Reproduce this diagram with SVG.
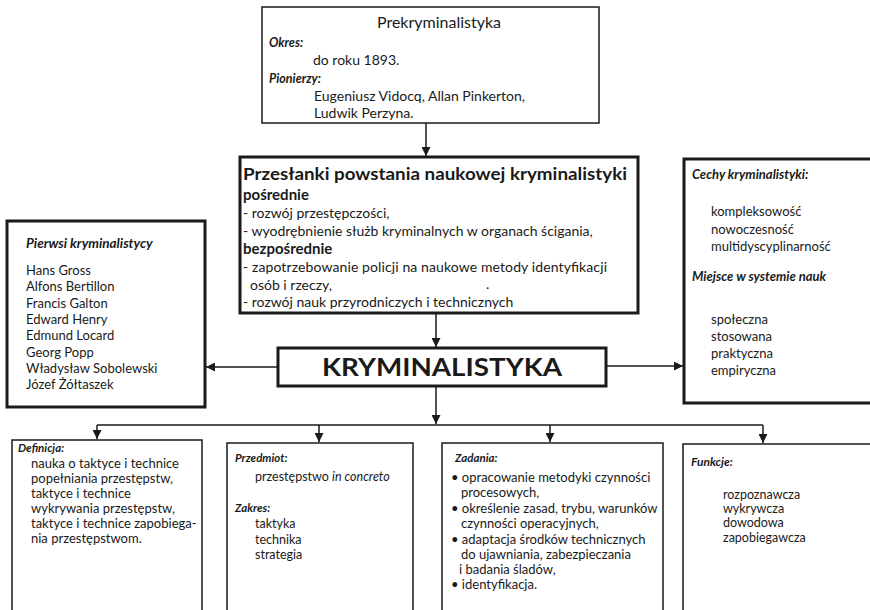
<svg xmlns="http://www.w3.org/2000/svg" width="870" height="610" viewBox="0 0 870 610">
<style>
text{font-family:Lato,"Noto Sans","DejaVu Sans",sans-serif;fill:#1a1a1a}
.t{font-size:13px}
.m{font-size:14px}
.s{font-size:12.5px}
.s13{font-size:13px}
.h{font-size:12.5px;font-weight:bold;font-style:italic}
.hb{font-size:11.5px;font-weight:bold;font-style:italic}
.b{font-size:15px;font-weight:bold}
.thick{fill:#fff;stroke:#1a1a1a;stroke-width:3}
.thin{fill:#fff;stroke:#1a1a1a;stroke-width:1.5}
.c{stroke:#1a1a1a;stroke-width:1.5;fill:none}
</style>
<defs>
<marker id="ar" viewBox="0 0 10 10" refX="10" refY="5" markerWidth="9" markerHeight="9" markerUnits="userSpaceOnUse" orient="auto"><path d="M0,0 L10,5 L0,10 z" fill="#1a1a1a"/></marker>
</defs>
<g id="connectors">
<line class="c" x1="426" y1="123" x2="426" y2="156" marker-end="url(#ar)"/>
<line class="c" x1="436" y1="313" x2="436" y2="347" marker-end="url(#ar)"/>
<line class="c" x1="278" y1="367" x2="206" y2="367" marker-end="url(#ar)"/>
<line class="c" x1="606" y1="366" x2="683" y2="366" marker-end="url(#ar)"/>
<line class="c" x1="436" y1="386" x2="436" y2="424" marker-end="url(#ar)"/>
<line class="c" x1="97" y1="425" x2="763" y2="425"/>
<line class="c" x1="97" y1="425" x2="97" y2="439" marker-end="url(#ar)"/>
<line class="c" x1="319" y1="425" x2="319" y2="442" marker-end="url(#ar)"/>
<line class="c" x1="550" y1="425" x2="550" y2="442" marker-end="url(#ar)"/>
<line class="c" x1="763" y1="425" x2="763" y2="443" marker-end="url(#ar)"/>
</g>
<g id="prekryminalistyka">
<rect class="thin" x="262" y="7" width="337" height="116"/>
<text x="439" y="28" text-anchor="middle" style="font-size:16px">Prekryminalistyka</text>
<text class="h" x="269" y="47">Okres:</text>
<text class="m" x="313" y="65">do roku 1893.</text>
<text class="h" x="269" y="83">Pionierzy:</text>
<text class="m" x="314" y="101">Eugeniusz Vidocq, Allan Pinkerton,</text>
<text class="m" x="314" y="118">Ludwik Perzyna.</text>
</g>
<g id="przeslanki">
<rect class="thick" x="240" y="157" width="398" height="156"/>
<text x="243" y="180" textLength="384" lengthAdjust="spacingAndGlyphs" style="font-size:17.5px;font-weight:bold">Przesłanki powstania naukowej kryminalistyki</text>
<text class="b" x="243" y="200">pośrednie</text>
<text class="m" x="243" y="218">- rozwój przestępczości,</text>
<text class="m" x="243" y="236">- wyodrębnienie służb  kryminalnych w  organach ścigania,</text>
<text class="b" x="243" y="254">bezpośrednie</text>
<text class="m" x="243" y="272" textLength="364">- zapotrzebowanie policji na naukowe metody identyfikacji</text>
<text class="m" x="250" y="290">osób i rzeczy,</text>
<text class="m" x="486" y="289">.</text>
<text class="m" x="243" y="307">- rozwój nauk przyrodniczych i technicznych</text>
</g>
<g id="pierwsi">
<rect class="thick" x="7" y="221" width="198" height="186"/>
<text class="h" x="26" y="248" style="font-size:13.5px">Pierwsi kryminalistycy</text>
<text class="t" x="26" y="275">Hans Gross</text>
<text class="t" x="26" y="291">Alfons Bertillon</text>
<text class="t" x="26" y="308">Francis Galton</text>
<text class="t" x="26" y="324">Edward Henry</text>
<text class="t" x="26" y="340">Edmund Locard</text>
<text class="t" x="26" y="357">Georg Popp</text>
<text class="t" x="26" y="373">Władysław Sobolewski</text>
<text class="t" x="26" y="389">Józef  Żółtaszek</text>
</g>
<g id="cechy">
<rect class="thick" x="684" y="159" width="200" height="244"/>
<text class="h" x="692" y="179" style="font-size:13px">Cechy kryminalistyki:</text>
<text class="t" x="711" y="216">kompleksowość</text>
<text class="t" x="711" y="234">nowoczesność</text>
<text class="t" x="711" y="251">multidyscyplinarność</text>
<text class="h" x="692" y="281" style="font-size:13px">Miejsce w systemie nauk</text>
<text class="t" x="711" y="324">społeczna</text>
<text class="t" x="711" y="341">stosowana</text>
<text class="t" x="711" y="358">praktyczna</text>
<text class="t" x="711" y="375">empiryczna</text>
</g>
<g id="kryminalistyka">
<rect class="thick" x="278" y="348" width="328" height="38"/>
<text x="322" y="376" textLength="240" lengthAdjust="spacingAndGlyphs" style="font-size:25px;font-weight:bold">KRYMINALISTYKA</text>
</g>
<g id="definicja">
<rect class="thin" x="12" y="440" width="190" height="180"/>
<text class="hb" x="18" y="452">Definicja:</text>
<text class="s13" x="31" y="468">nauka o taktyce i technice</text>
<text class="s13" x="31" y="483">popełniania przestępstw,</text>
<text class="s13" x="31" y="498">taktyce i technice</text>
<text class="s13" x="31" y="513">wykrywania przestępstw,</text>
<text class="s13" x="31" y="528">taktyce i technice zapobiega-</text>
<text class="s13" x="31" y="543">nia przestępstwom.</text>
</g>
<g id="przedmiot">
<rect class="thin" x="227" y="443" width="186" height="180"/>
<text class="hb" x="235" y="462">Przedmiot:</text>
<text class="s" x="255" y="481">przestępstwo <tspan font-style="italic">in concreto</tspan></text>
<text class="hb" x="235" y="512">Zakres:</text>
<text class="s" x="255" y="528">taktyka</text>
<text class="s" x="255" y="544">technika</text>
<text class="s" x="255" y="559">strategia</text>
</g>
<g id="zadania">
<rect class="thin" x="442" y="443" width="221" height="180"/>
<text class="hb" x="455" y="462">Zadania:</text>
<text class="s13" x="451" y="482">• opracowanie metodyki czynności</text>
<text class="s13" x="461" y="497">procesowych,</text>
<text class="s13" x="451" y="513">• określenie zasad, trybu, warunków</text>
<text class="s13" x="461" y="528">czynności operacyjnych,</text>
<text class="s13" x="451" y="544">• adaptacja środków technicznych</text>
<text class="s13" x="461" y="559">do ujawniania, zabezpieczania</text>
<text class="s13" x="459" y="574">i badania śladów,</text>
<text class="s13" x="451" y="589">• identyfikacja.</text>
</g>
<g id="funkcje">
<rect class="thin" x="683" y="444" width="200" height="180"/>
<text class="hb" x="691" y="466" style="font-size:12px">Funkcje:</text>
<text class="s" x="723" y="499">rozpoznawcza</text>
<text class="s" x="723" y="513">wykrywcza</text>
<text class="s" x="723" y="527">dowodowa</text>
<text class="s" x="723" y="542">zapobiegawcza</text>
</g>
</svg>
